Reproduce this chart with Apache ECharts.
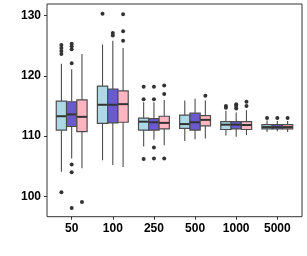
<!DOCTYPE html>
<html>
<head>
<meta charset="utf-8">
<script src="https://cdn.jsdelivr.net/npm/echarts@6/dist/echarts.min.js"></script>
<style>html,body{margin:0;padding:0;background:#fff}#c{width:307px;height:256px}</style>
</head>
<body>
<div id="c"></div>
<script>
// categories (x axis)
const categories = ['50', '100', '250', '500', '1000', '5000'];
// y tick labels
const yTicks = [100, 110, 120, 130];
// box stats per category: [min whisker, Q1, median, Q3, max whisker]
const boxA = [
  [104.1, 111.0, 113.3, 115.8, 122.0],
  [106.0, 112.1, 115.2, 118.3, 125.2],
  [108.3, 111.0, 112.4, 113.0, 115.6],
  [109.2, 111.3, 112.0, 113.5, 115.9],
  [110.1, 111.1, 111.9, 112.4, 114.2],
  [110.7, 111.2, 111.5, 111.9, 112.6]
];
const boxB = [
  [106.3, 111.6, 113.6, 115.7, 121.1],
  [105.2, 112.2, 115.2, 117.8, 125.8],
  [109.4, 111.0, 112.3, 112.9, 115.6],
  [109.5, 111.0, 112.3, 113.8, 116.2],
  [109.9, 111.2, 111.9, 112.4, 113.9],
  [110.8, 111.2, 111.5, 111.9, 112.5]
];
const boxC = [
  [104.7, 110.75, 113.2, 116.0, 123.6],
  [104.9, 112.3, 115.3, 117.5, 124.6],
  [108.5, 111.2, 112.2, 113.3, 116.0],
  [109.6, 111.7, 112.7, 113.4, 115.9],
  [110.2, 111.1, 111.85, 112.4, 114.3],
  [110.7, 111.2, 111.5, 111.9, 112.5]
];
// outliers: [category index, value]
const outA = [
  [0, 125.1], [0, 124.6], [0, 124.1], [0, 123.6], [0, 100.7],
  [1, 130.3],
  [2, 118.2], [2, 116.1], [2, 106.2],
  [4, 115.0], [4, 114.7],
  [5, 113.0]
];
const outB = [
  [0, 125.3], [0, 124.9], [0, 124.4], [0, 122.1], [0, 105.3], [0, 104.0], [0, 98.1],
  [1, 127.1], [1, 126.7],
  [2, 118.2], [2, 116.1], [2, 108.1], [2, 106.3],
  [4, 115.3], [4, 115.0], [4, 114.6],
  [5, 113.0]
];
const outC = [
  [0, 99.1],
  [1, 130.2], [1, 127.4], [1, 125.8],
  [2, 118.4], [2, 117.0], [2, 106.3],
  [3, 116.7],
  [4, 115.7], [4, 115.0],
  [5, 113.0]
];
const fills = ['#ADD8E6', '#6A5ACD', '#FFB6C1'];

const chart = echarts.init(document.getElementById('c'), null, {renderer: 'canvas'});

function boxSeries(stats, k) {
  return {
    type: 'custom', xAxisIndex: 0, yAxisIndex: 0, z: 2,
    data: stats.map((s, i) => [i].concat(s)),
    encode: {x: 0, y: [1, 2, 3, 4, 5]},
    renderItem: function (params, api) {
      const ci = api.value(0);
      const band = api.size([1, 0])[0];
      const w = band * 0.25;
      const cx = api.coord([ci, 0])[0] + (k - 1) * w;
      const yMin = api.coord([ci, api.value(1)])[1];
      const yQ1 = api.coord([ci, api.value(2)])[1];
      const yMed = api.coord([ci, api.value(3)])[1];
      const yQ3 = api.coord([ci, api.value(4)])[1];
      const yMax = api.coord([ci, api.value(5)])[1];
      const lineStyle = {stroke: '#4d4d4d', lineWidth: 1.1};
      return {
        type: 'group',
        children: [
          {type: 'line', shape: {x1: cx, y1: yMax, x2: cx, y2: yQ3}, style: lineStyle},
          {type: 'line', shape: {x1: cx, y1: yQ1, x2: cx, y2: yMin}, style: lineStyle},
          {type: 'rect', shape: {x: cx - w / 2, y: yQ3, width: w, height: yQ1 - yQ3},
            style: {fill: fills[k], stroke: '#4d4d4d', lineWidth: 1.2}},
          {type: 'line', shape: {x1: cx - w / 2, y1: yMed, x2: cx + w / 2, y2: yMed},
            style: {stroke: '#333333', lineWidth: 2}}
        ]
      };
    }
  };
}
function outlierSeries(pts, k) {
  return {
    type: 'custom', xAxisIndex: 0, yAxisIndex: 0, z: 3,
    data: pts,
    encode: {x: 0, y: 1},
    renderItem: function (params, api) {
      const band = api.size([1, 0])[0];
      const w = band * 0.25;
      const p = api.coord([api.value(0), api.value(1)]);
      return {type: 'circle', shape: {cx: p[0] + (k - 1) * w, cy: p[1], r: 2},
        style: {fill: '#333333'}};
    }
  };
}

const labelFont = {color: '#000', fontSize: 12, fontWeight: 'bold', fontFamily: 'Liberation Sans, Arial, sans-serif'};
const band = (302 - 47) / 6.2;
chart.setOption({
  animation: false,
  backgroundColor: '#fff',
  grid: [
    {left: 47 + 0.1 * band, right: 307 - (302 - 0.1 * band), top: 4, bottom: 39.3, show: false},
    {left: 47, right: 5, top: 4, bottom: 39.3, show: true, borderColor: '#333', borderWidth: 1, backgroundColor: 'transparent'}
  ],
  xAxis: [
    {type: 'category', gridIndex: 0, data: categories, boundaryGap: true,
      axisLine: {show: false},
      axisTick: {show: true, alignWithLabel: true, length: 3, lineStyle: {color: '#333'}},
      axisLabel: Object.assign({margin: 6, interval: 0}, labelFont),
      splitLine: {show: false}},
    {type: 'value', gridIndex: 1, show: false}
  ],
  yAxis: [
    {type: 'value', gridIndex: 0, min: 96.65, max: 131.9, offset: 0.1 * band,
      axisLine: {show: false},
      axisTick: {show: true, length: 3, customValues: yTicks, lineStyle: {color: '#333'}},
      axisLabel: Object.assign({margin: 6, customValues: yTicks}, labelFont),
      splitLine: {show: false}},
    {type: 'value', gridIndex: 1, show: false}
  ],
  series: [
    boxSeries(boxA, 0), boxSeries(boxB, 1), boxSeries(boxC, 2),
    outlierSeries(outA, 0), outlierSeries(outB, 1), outlierSeries(outC, 2)
  ]
});
</script>
</body>
</html>
